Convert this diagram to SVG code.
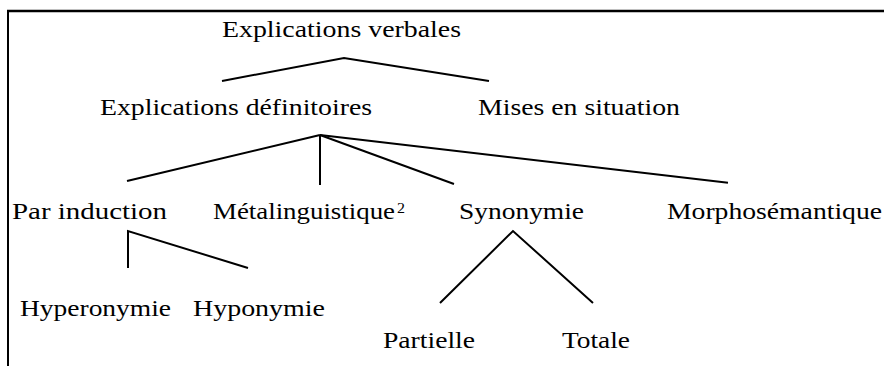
<svg xmlns="http://www.w3.org/2000/svg" width="885" height="366" viewBox="0 0 885 366">
<style>
text{font-family:"Liberation Serif","Times New Roman",serif;font-size:24px;fill:#000}
.sup{font-size:14px}
.c{stroke:#000;stroke-width:2;fill:none;stroke-linejoin:miter}
.f{stroke:#000;fill:none}
</style>
<rect width="885" height="366" fill="#fff"/>
<g id="frame">
<line class="f" x1="7" y1="11" x2="884" y2="11" stroke-width="2.5"/>
<line class="f" x1="8" y1="10" x2="8" y2="366" stroke-width="2"/>
</g>
<g id="connectors">
<polyline class="c" points="222,81 344,58 489,81"/>
<line class="c" x1="320" y1="135" x2="127" y2="181"/>
<line class="c" x1="320" y1="135" x2="320" y2="185"/>
<line class="c" x1="320" y1="135" x2="454" y2="184"/>
<line class="c" x1="320" y1="135" x2="728" y2="182.7"/>
<polyline class="c" points="128,268 128,231 248,268"/>
<polyline class="c" points="440,303 513,231 593,303"/>
</g>
<g id="n-verbales"><text x="222" y="37" textLength="239" lengthAdjust="spacingAndGlyphs">Explications verbales</text></g>
<g id="n-definitoires"><text x="100" y="115" textLength="272" lengthAdjust="spacingAndGlyphs">Explications définitoires</text></g>
<g id="n-situation"><text x="478" y="115" textLength="202" lengthAdjust="spacingAndGlyphs">Mises en situation</text></g>
<g id="n-induction"><text x="12" y="219" textLength="155" lengthAdjust="spacingAndGlyphs">Par induction</text></g>
<g id="n-metalinguistique"><text x="213" y="219" textLength="182" lengthAdjust="spacingAndGlyphs">Métalinguistique</text><text class="sup" x="397" y="213" textLength="8" lengthAdjust="spacingAndGlyphs">2</text></g>
<g id="n-synonymie"><text x="459" y="219" textLength="125" lengthAdjust="spacingAndGlyphs">Synonymie</text></g>
<g id="n-morpho"><text x="667" y="219" textLength="215" lengthAdjust="spacingAndGlyphs">Morphosémantique</text></g>
<g id="n-hyperonymie"><text x="20" y="316" textLength="151" lengthAdjust="spacingAndGlyphs">Hyperonymie</text></g>
<g id="n-hyponymie"><text x="193" y="316" textLength="132" lengthAdjust="spacingAndGlyphs">Hyponymie</text></g>
<g id="n-partielle"><text x="383" y="348" textLength="92" lengthAdjust="spacingAndGlyphs">Partielle</text></g>
<g id="n-totale"><text x="562" y="348" textLength="68" lengthAdjust="spacingAndGlyphs">Totale</text></g>
</svg>
